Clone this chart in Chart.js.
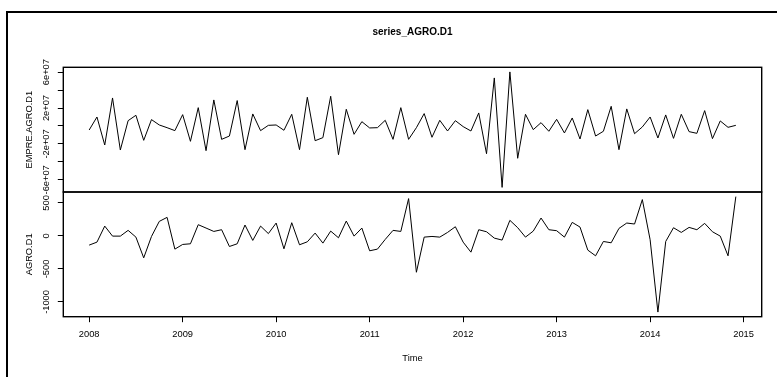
<!DOCTYPE html>
<html>
<head>
<meta charset="utf-8">
<script src="https://cdn.jsdelivr.net/npm/chart.js@4.4.0/dist/chart.umd.min.js"></script>
<style>
  html, body { margin: 0; padding: 0; background: #fff; }
  #page { position: relative; width: 777px; height: 377px; overflow: hidden; background: #fff; }
  #frame { position: absolute; left: 6px; top: 11px; width: 900px; height: 500px;
           border-left: 2px solid #000; border-top: 2px solid #000; }
  canvas { position: absolute; left: 0; }
  #topPanel { top: 0; z-index: 2; }
  #bottomPanel { top: 185px; z-index: 1; }
</style>
</head>
<body>
<div id="page">
  <div id="frame"></div>
  <canvas id="bottomPanel" width="777" height="192"></canvas>
  <canvas id="topPanel" width="777" height="200"></canvas>
</div>
<script>
// Monthly observations, January 2008 – December 2014
const startYear = 2008;
const monthsPerYear = 12;
const nObs = 84;
const timeIndex = Array.from({ length: nObs }, (_, i) => startYear + i / monthsPerYear);

// EMPRE.AGRO.D1 (first differences)
const empreAgroD1 = [
  -0.45e7, 1.00e7, -2.12e7, 3.12e7, -2.68e7, 0.59e7, 1.19e7, -1.60e7, 0.71e7, 0.11e7, -0.19e7, -0.52e7,
  1.26e7, -1.71e7, 2.04e7, -2.75e7, 2.90e7, -1.49e7, -1.12e7, 2.83e7, -2.64e7, 1.34e7, -0.52e7, 0.07e7,
  0.11e7, -0.48e7, 1.30e7, -2.64e7, 3.20e7, -1.64e7, -1.30e7, 3.31e7, -3.20e7, 1.86e7, -0.93e7, 0.48e7,
  -0.22e7, -0.19e7, 0.63e7, -1.49e7, 2.04e7, -1.49e7, -0.19e7, 1.38e7, -1.26e7, 0.63e7, -0.56e7, 0.59e7,
  -0.07e7, -0.56e7, 1.45e7, -3.09e7, 5.35e7, -6.84e7, 6.02e7, -3.60e7, 1.30e7, -0.41e7, 0.37e7, -0.59e7,
  0.74e7, -0.78e7, 0.89e7, -1.45e7, 1.82e7, -1.12e7, -0.59e7, 2.19e7, -2.64e7, 1.90e7, -0.86e7, -0.11e7,
  1.00e7, -1.34e7, 1.23e7, -1.38e7, 1.30e7, -0.63e7, -0.82e7, 1.71e7, -1.41e7, 0.56e7, -0.15e7, 0.07e7
];

// AGRO.D1 (first differences)
const agroD1 = [
  -139, -94, 149, -3, -3, 84, -18, -332, -8, 220, 281, -200,
  -129, -119, 170, 119, 68, 94, -160, -119, 165, -68, 149, 35,
  195, -195, 200, -134, -89, 43, -109, 73, -28, 225, -3, 119,
  -225, -200, -53, 84, 68, 565, -550, -18, -8, -18, 53, 139,
  -94, -246, 94, 63, -33, -63, 236, 125, -18, 73, 271, 94,
  79, -18, 205, 134, -215, -301, -84, -104, 114, 195, 180, 550,
  -58, -1153, -84, 124, 53, 129, 94, 190, 63, -3, -301, 595
];

// Axis ticks
const yearTicks = [2008, 2009, 2010, 2011, 2012, 2013, 2014, 2015];
const topTickValues = [-6e7, -4e7, -2e7, 0, 2e7, 4e7, 6e7];
const topTickLabels = ['-6e+07', '', '-2e+07', '', '2e+07', '', '6e+07'];
const bottomTickValues = [-1000, -500, 0, 500];
const bottomTickLabels = ['-1000', '-500', '0', '500'];

const chartTitle = 'series_AGRO.D1';
const topAxisTitle = 'EMPRE.AGRO.D1';
const bottomAxisTitle = 'AGRO.D1';
const xAxisTitle = 'Time';

const FONT = "'Liberation Sans', Arial, Helvetica, sans-serif";
const AXIS_FONT_SIZE = 9.3;

// R-style range: data range padded by 4% on each side
function paddedRange(values) {
  const lo = Math.min(...values), hi = Math.max(...values);
  const ext = (hi - lo) * 0.04;
  return { min: lo - ext, max: hi + ext };
}
const xRange = paddedRange(timeIndex);
const topRange = paddedRange(empreAgroD1);
const bottomRange = paddedRange(agroD1);

const toPoints = (vals) => vals.map((v, i) => ({ x: timeIndex[i], y: v }));

// Box around each panel's plotting region
const panelBox = {
  id: 'panelBox',
  afterDraw(chart) {
    const { ctx, chartArea: a } = chart;
    ctx.save();
    ctx.strokeStyle = '#000';
    ctx.lineWidth = 1.4;
    ctx.strokeRect(a.left, a.top, a.right - a.left, a.bottom - a.top);
    ctx.restore();
  }
};

function fixWidth(w) {
  return (scale) => {
    scale.width = w;
    scale.paddingTop = 0; scale.paddingBottom = 0;
    scale.paddingLeft = 0; scale.paddingRight = 0;
  };
}

function yScale(range, tickValues, tickLabels, title, labelPad) {
  return {
    type: 'linear',
    position: 'left',
    min: range.min,
    max: range.max,
    afterBuildTicks: (scale) => { scale.ticks = tickValues.map(v => ({ value: v })); },
    afterFit: fixWidth(63.3),
    border: { display: false },
    grid: { display: true, drawOnChartArea: false, drawTicks: true, tickLength: 5.5, color: '#000', lineWidth: 1 },
    ticks: {
      autoSkip: false,
      minRotation: 90,
      maxRotation: 90,
      crossAlign: 'center',
      padding: labelPad,
      color: '#000',
      font: { family: FONT, size: AXIS_FONT_SIZE },
      callback: (value) => {
        const k = tickValues.indexOf(value);
        return k >= 0 ? tickLabels[k] : '';
      }
    },
    title: {
      display: true,
      text: title,
      color: '#000',
      font: { family: FONT, size: AXIS_FONT_SIZE },
      padding: { top: 24.0, bottom: 0 }
    }
  };
}

// Top panel: EMPRE.AGRO.D1
new Chart(document.getElementById('topPanel'), {
  type: 'line',
  data: {
    datasets: [{
      data: toPoints(empreAgroD1),
      borderColor: '#000',
      borderWidth: 1,
      pointRadius: 0,
      tension: 0,
      fill: false
    }]
  },
  options: {
    responsive: false,
    animation: false,
    devicePixelRatio: 1,
    layout: { padding: { left: 0, right: 15.3, top: 0, bottom: 8 } },
    plugins: {
      legend: { display: false },
      tooltip: { enabled: false },
      title: {
        display: true,
        text: chartTitle,
        fullSize: false,
        color: '#000',
        font: { family: FONT, size: 10, weight: 'bold' },
        padding: { top: 26.7, bottom: 28.6 }
      }
    },
    scales: {
      x: { type: 'linear', min: xRange.min, max: xRange.max, display: false },
      y: yScale(topRange, topTickValues, topTickLabels, topAxisTitle, -3.1)
    }
  },
  plugins: [panelBox]
});

// Bottom panel: AGRO.D1 with the time axis
new Chart(document.getElementById('bottomPanel'), {
  type: 'line',
  data: {
    datasets: [{
      data: toPoints(agroD1),
      borderColor: '#000',
      borderWidth: 1,
      pointRadius: 0,
      tension: 0,
      fill: false
    }]
  },
  options: {
    responsive: false,
    animation: false,
    devicePixelRatio: 1,
    layout: { padding: { left: 0, right: 15.3, top: 7, bottom: 0 } },
    plugins: {
      legend: { display: false },
      tooltip: { enabled: false },
      title: { display: false }
    },
    scales: {
      x: {
        type: 'linear',
        position: 'bottom',
        min: xRange.min,
        max: xRange.max,
        afterBuildTicks: (scale) => { scale.ticks = yearTicks.map(v => ({ value: v })); },
        afterFit: (scale) => {
          scale.height = 60.3;
          scale.paddingLeft = 0; scale.paddingRight = 0;
          scale.paddingTop = 0; scale.paddingBottom = 0;
        },
        border: { display: false },
        grid: { display: true, drawOnChartArea: false, drawTicks: true, tickLength: 5.5, color: '#000', lineWidth: 1 },
        ticks: {
          autoSkip: false,
          maxRotation: 0,
          padding: 6.5,
          color: '#000',
          font: { family: FONT, size: AXIS_FONT_SIZE },
          callback: (value) => String(value)
        },
        title: {
          display: true,
          text: xAxisTitle,
          color: '#000',
          font: { family: FONT, size: AXIS_FONT_SIZE },
          padding: { top: 0, bottom: 13.4 }
        }
      },
      y: yScale(bottomRange, bottomTickValues, bottomTickLabels, bottomAxisTitle, -0.4)
    }
  },
  plugins: [panelBox]
});
</script>
</body>
</html>
